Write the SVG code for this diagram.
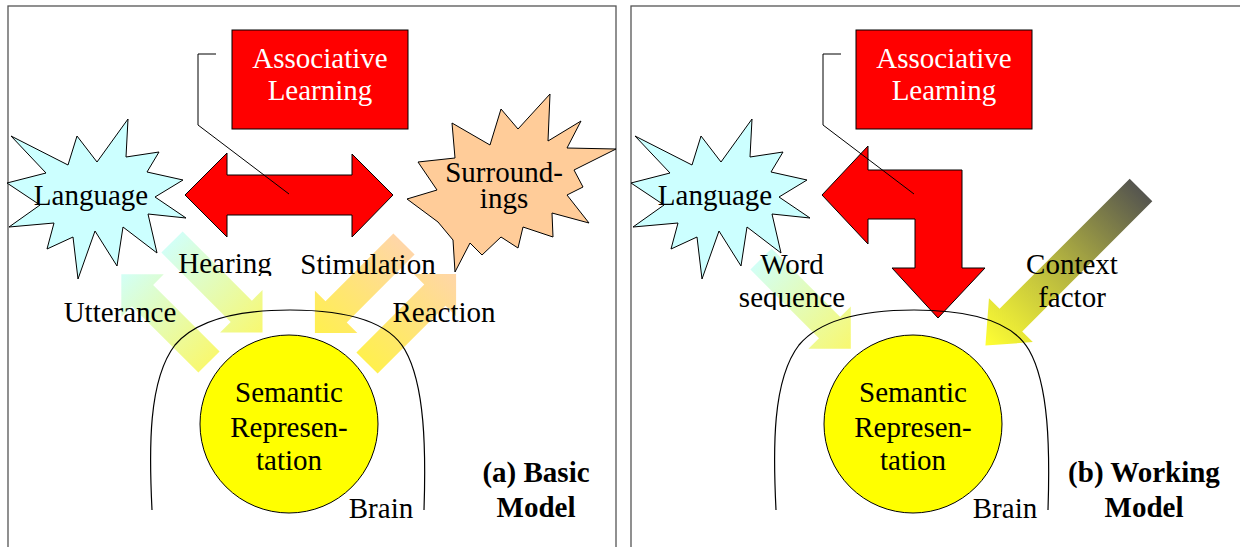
<svg xmlns="http://www.w3.org/2000/svg" width="1240" height="547" viewBox="0 0 1240 547" font-family="Liberation Serif, DejaVu Serif, Times New Roman, serif">
<style>
text{font-size:29px;fill:#000;text-anchor:middle}
.w{fill:#fff}
.b{font-weight:bold}
.panel{fill:#fff;stroke:#555;stroke-width:1.3}
.red{fill:#ff0000;stroke:#000;stroke-width:1}
.ln{fill:none;stroke:#000;stroke-width:1.2}
.lang{fill:#ccffff;stroke:#000;stroke-width:1}
.surr{fill:#ffcc99;stroke:#000;stroke-width:1}
.circ{fill:#ffff00;stroke:#000;stroke-width:1}
</style>
<defs>
<linearGradient id="gCY" x1="0" y1="0" x2="1" y2="0"><stop offset="0" stop-color="#d2fff6"/><stop offset="1" stop-color="#f8f870"/></linearGradient>
<linearGradient id="gYC" x1="0" y1="0" x2="1" y2="0"><stop offset="0" stop-color="#f8f870"/><stop offset="1" stop-color="#d2fff6"/></linearGradient>
<linearGradient id="gPY" x1="0" y1="0" x2="1" y2="0"><stop offset="0" stop-color="#ffd6a8"/><stop offset="1" stop-color="#fff04e"/></linearGradient>
<linearGradient id="gYP" x1="0" y1="0" x2="1" y2="0"><stop offset="0" stop-color="#fff04e"/><stop offset="1" stop-color="#ffd6a8"/></linearGradient>
<linearGradient id="gGY" x1="0" y1="0" x2="1" y2="0"><stop offset="0" stop-color="#55554f"/><stop offset="0.5" stop-color="#b4b440"/><stop offset="1" stop-color="#ffff33"/></linearGradient>
<polygon id="star" points="11,136 68,165 77,136 97,162 128,119 126,157 159,152 147,172 183,180 155,197 186,218 148,214 157,253 123,227 117,266 95,231 78,279 73,237 47,249 54,223 9,227 40,205 7,183 46,173"/>
<path id="brain" d="M152,510 C149,450 148,380 175,345 C200,315 250,310 290,310 C330,310 385,315 405,350 C425,385 426,450 424,510"/>
<clipPath id="clipHear"><rect x="150" y="230" width="150" height="46"/></clipPath>
<clipPath id="clipSeq"><rect x="720" y="285" width="150" height="25"/></clipPath>
</defs>

<g id="panel-a">
<rect class="panel" x="8" y="6" width="608" height="560"/>
</g>
<g id="panel-b">
<rect class="panel" x="631" y="6" width="620" height="560"/>
</g>

<g id="connectors">
<path id="arrow-hearing" fill="url(#gCY)" transform="translate(172,242) rotate(45)" d="M0,-15 L98,-15 L98,-30 L128,0 L98,30 L98,15 L0,15 Z"/>
<path id="arrow-utterance" fill="url(#gYC)" transform="translate(209,362) rotate(225)" d="M0,-15 L94,-15 L94,-30 L124,0 L94,30 L94,15 L0,15 Z"/>
<path id="arrow-stimulation" fill="url(#gPY)" transform="translate(404,244) rotate(135)" d="M0,-15 L96,-15 L96,-30 L126,0 L96,30 L96,15 L0,15 Z"/>
<path id="arrow-reaction" fill="url(#gYP)" transform="translate(367,363) rotate(-45)" d="M0,-15 L96,-15 L96,-30 L126,0 L96,30 L96,15 L0,15 Z"/>
<path id="arrow-word" fill="url(#gCY)" transform="translate(761,259) rotate(45)" d="M0,-15 L97,-15 L97,-30 L127,0 L97,30 L97,15 L0,15 Z"/>
<path id="arrow-context" fill="url(#gGY)" transform="translate(1141,190) rotate(135)" d="M0,-16 L184,-16 L184,-31 L220,0 L184,31 L184,16 L0,16 Z"/>
<polygon id="arrow-assoc-a" class="red" points="185,195 227,153 227,175 352,175 352,154 393,195 352,237 352,215 227,215 227,237"/>
<polygon id="arrow-assoc-b" class="red" points="822,195 868,146 868,170 962,170 962,268 985,268 938,318 892,268 915,268 915,219 868,219 868,244"/>
<polyline class="ln" points="216,54 198,54 198,125 289,194" style="stroke-width:1"/>
<polyline class="ln" points="841,54 823,54 823,125 914,194" style="stroke-width:1"/>
</g>

<g id="language-a"><use href="#star" class="lang"/><text x="91" y="205">Language</text></g>
<g id="language-b" transform="translate(624,0)"><use href="#star" class="lang"/><text x="91" y="205">Language</text></g>

<g id="surroundings">
<polygon class="surr" points="452,123 490,145 501,109 518,129 550,94 548,141 581,121 567,148 616,149 574,170 583,187 567,195 589,223 552,213 553,237 523,227 518,248 501,237 482,255 470,243 455,272 453,240 438,222 407,199 437,190 418,162 455,158"/>
<text x="504" y="182">Surround-</text>
<text x="504" y="208">ings</text>
</g>

<g id="assoc-a"><rect class="red" x="232" y="30" width="176" height="99"/><text class="w" x="320" y="68">Associative</text><text class="w" x="320" y="100">Learning</text></g>
<g id="assoc-b"><rect class="red" x="856" y="30" width="176" height="99"/><text class="w" x="944" y="68">Associative</text><text class="w" x="944" y="100">Learning</text></g>

<g id="brain-a"><use href="#brain" class="ln"/><text x="381" y="518">Brain</text></g>
<g id="brain-b" transform="translate(624,0)"><use href="#brain" class="ln"/><text x="381" y="518">Brain</text></g>

<g id="semantic-a"><circle class="circ" cx="289" cy="424" r="89"/><text x="289" y="402">Semantic</text><text x="289" y="437">Represen-</text><text x="289" y="470">tation</text></g>
<g id="semantic-b"><circle class="circ" cx="913" cy="424" r="89"/><text x="913" y="402">Semantic</text><text x="913" y="437">Represen-</text><text x="913" y="470">tation</text></g>

<g id="labels">
<text x="225" y="273" clip-path="url(#clipHear)">Hearing</text>
<text x="368" y="274">Stimulation</text>
<text x="120" y="322">Utterance</text>
<text x="444" y="322">Reaction</text>
<text x="792" y="274">Word</text>
<text x="792" y="307" clip-path="url(#clipSeq)">sequence</text>
<text x="1072" y="274">Context</text>
<text x="1072" y="307">factor</text>
<text class="b" x="536" y="482">(a) Basic</text>
<text class="b" x="536" y="517">Model</text>
<text class="b" x="1144" y="482">(b) Working</text>
<text class="b" x="1144" y="517">Model</text>
</g>
</svg>
